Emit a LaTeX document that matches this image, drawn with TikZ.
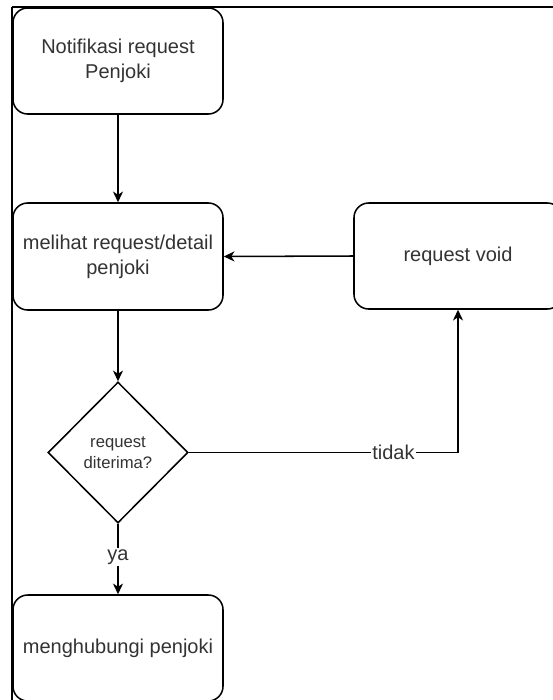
\documentclass[tikz,border=0pt]{standalone}
\usepackage{fontspec}
\setmainfont{Liberation Sans}
\usetikzlibrary{shapes.geometric,arrows.meta}
\definecolor{txt}{HTML}{333333}
\tikzset{
  stepbox/.style={draw=black, line width=1.15pt, rounded corners=11pt, fill=white,
    minimum width=157.5pt, minimum height=79.5pt, align=center, text=txt,
    font=\fontsize{15pt}{19pt}\selectfont, inner sep=1pt},
  decision/.style={draw=black, line width=1.15pt, shape=diamond, fill=white,
    minimum width=105pt, minimum height=105.75pt, inner sep=0pt, align=center,
    text=txt, font=\fontsize{12.5pt}{16pt}\selectfont},
  flow/.style={draw=black, line width=1.15pt,
    -{Stealth[length=8pt,width=7.5pt,inset=2.4pt]}},
  edgelabel/.style={fill=white, text=txt, inner sep=1pt,
    font=\fontsize{15pt}{18pt}\selectfont}
}
\begin{document}
\begin{tikzpicture}[x=0.75pt,y=-0.75pt]
\useasboundingbox (0,0) rectangle (553,700);
\clip (0,0) rectangle (553,700);
\fill[white] (0,0) rectangle (553,700);

% process steps
\node[stepbox] (notif) at (118,61) {Notifikasi request\\Penjoki};
\node[stepbox, minimum height=80.25pt] (detail) at (118,256.5) {melihat request/detail\\penjoki};
\node[stepbox, minimum width=156pt] (void) at (458,256) {request void};
\node[decision] (dec) at (118,452.5) {request\\diterima?};
\node[stepbox] (contact) at (118,648) {menghubungi penjoki};

% connectors
\draw[flow] (notif.south) -- (detail.north);
\draw[flow] (detail.south) -- (dec.north);
\draw[flow] (void.west) -- (detail.east);
\draw[flow] (dec.east) -| node[edgelabel, pos=0.38] {tidak} (void.south);
\draw[flow] (dec.south) -- node[edgelabel, pos=0.47] {ya} (contact.north);

% frame lines
\coordinate (fcorner) at (12,7);
\coordinate (fright) at (560,7);
\coordinate (fbottom) at (12,710);
\draw[line width=1.1pt] (fcorner) -- (fright);
\draw[line width=1.9pt] (fcorner) -- (fbottom);
\end{tikzpicture}
\end{document}
